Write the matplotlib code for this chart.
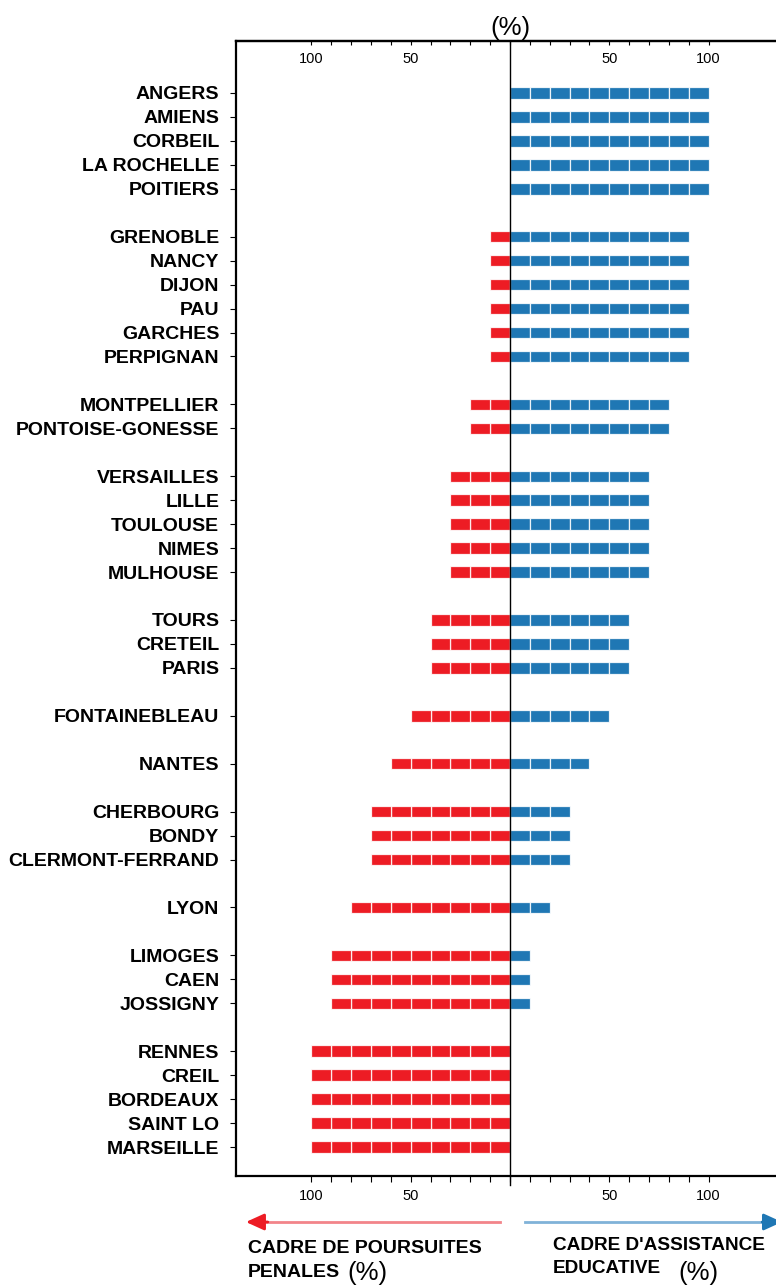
import numpy as np
import matplotlib.pyplot as plt

plt.rcParams["font.family"] = ["Liberation Sans", "DejaVu Sans"]

cities = ["ANGERS", "AMIENS", "CORBEIL", "LA ROCHELLE", "POITIERS",
          "GRENOBLE", "NANCY", "DIJON", "PAU", "GARCHES", "PERPIGNAN",
          "MONTPELLIER", "PONTOISE-GONESSE",
          "VERSAILLES", "LILLE", "TOULOUSE", "NIMES", "MULHOUSE",
          "TOURS", "CRETEIL", "PARIS",
          "FONTAINEBLEAU",
          "NANTES",
          "CHERBOURG", "BONDY", "CLERMONT-FERRAND",
          "LYON",
          "LIMOGES", "CAEN", "JOSSIGNY",
          "RENNES", "CREIL", "BORDEAUX", "SAINT LO", "MARSEILLE"]
group_sizes = [5, 6, 2, 5, 3, 1, 1, 3, 1, 3, 5]
# cadre de poursuites penales (%)
penales = [0, 0, 0, 0, 0,
           10, 10, 10, 10, 10, 10,
           20, 20,
           30, 30, 30, 30, 30,
           40, 40, 40,
           50,
           60,
           70, 70, 70,
           80,
           90, 90, 90,
           100, 100, 100, 100, 100]
# cadre d'assistance educative (%)
educative = [100, 100, 100, 100, 100,
             90, 90, 90, 90, 90, 90,
             80, 80,
             70, 70, 70, 70, 70,
             60, 60, 60,
             50,
             40,
             30, 30, 30,
             20,
             10, 10, 10,
             0, 0, 0, 0, 0]
x_ticks = [-100, -50, 50, 100]
x_ticklabels = ["100", "50", "50", "100"]

RED = "#ed1c24"
BLUE = "#1f77b4"

# one blank row between groups
ypos = []
pos = 0
for g in group_sizes:
    for i in range(g):
        ypos.append(pos)
        pos += 1
    pos += 1

fig = plt.figure(figsize=(7.76, 12.86), dpi=100)
ax = fig.add_axes([236 / 776, 110 / 1286, 548 / 776, 1135 / 1286])

seg = dict(height=0.48, edgecolor=(1, 1, 1, 0.85), linewidth=0.9)
for y, r, b in zip(ypos, penales, educative):
    for start in range(0, r, 10):
        ax.barh(y, 10, left=-start - 10, color=RED, **seg)
    for start in range(0, b, 10):
        ax.barh(y, 10, left=start, color=BLUE, **seg)

ax.plot([0, 0], [-0.008, 1], transform=ax.get_xaxis_transform(),
        color="black", lw=1, clip_on=False, zorder=5)

ax.set_xlim(-138, 138)
ax.set_ylim(45.21, -2.17)

ax.set_yticks(ypos)
ax.set_yticklabels(cities, fontsize=14, fontweight="bold")
ax.tick_params(axis="y", length=4, width=0.8, pad=8)

minor = np.arange(-100, 101, 10)
ax.set_xticks(x_ticks)
ax.set_xticklabels(x_ticklabels, fontsize=10.5)
ax.set_xticks(minor, minor=True)
ax.tick_params(axis="x", which="both", direction="out", length=4, width=0.8, pad=5)

top = ax.secondary_xaxis("top")
top.set_xticks(x_ticks)
top.set_xticklabels(x_ticklabels, fontsize=10.5)
top.set_xticks(minor, minor=True)
top.tick_params(axis="x", which="both", direction="in", length=3, width=0.8, pad=-18)
top.spines["top"].set_linewidth(1.6)

for side in ["left", "bottom", "top"]:
    ax.spines[side].set_linewidth(1.6)
ax.spines["right"].set_visible(False)

ax.set_title("(%)", fontsize=18.5, pad=4)

# arrows below the axes
ytr = ax.get_xaxis_transform()
yarr = -(1222 - 1176) / 1135
ax.plot([-5, -125], [yarr, yarr], transform=ytr, color="#f2848a", lw=2, clip_on=False)
ax.annotate("", xy=(-133, yarr), xytext=(-122, yarr), xycoords=ytr,
            arrowprops=dict(arrowstyle="-|>,head_length=1.1,head_width=0.5",
                            color=RED, lw=2, shrinkA=0, shrinkB=0),
            annotation_clip=False)
ax.plot([7.5, 128], [yarr, yarr], transform=ytr, color="#80b2d8", lw=2, clip_on=False)
ax.annotate("", xy=(137, yarr), xytext=(127, yarr), xycoords=ytr,
            arrowprops=dict(arrowstyle="-|>,head_length=1.1,head_width=0.5",
                            color=BLUE, lw=2, shrinkA=0, shrinkB=0),
            annotation_clip=False)

def fy(px):
    return 1 - px / 1286

fig.text(248 / 776, fy(1240), "CADRE DE POURSUITES", fontsize=14,
         fontweight="bold", va="top", ha="left")
fig.text(248 / 776, fy(1264), "PENALES", fontsize=14,
         fontweight="bold", va="top", ha="left")
fig.text(347 / 776, fy(1285), "(%)", fontsize=18.5, va="bottom", ha="left")
fig.text(553 / 776, fy(1237), "CADRE D'ASSISTANCE", fontsize=13.7,
         fontweight="bold", va="top", ha="left")
fig.text(553 / 776, fy(1260), "EDUCATIVE", fontsize=13.7,
         fontweight="bold", va="top", ha="left")
fig.text(678 / 776, fy(1285), "(%)", fontsize=18.5, va="bottom", ha="left")

fig.savefig("out.png", dpi=100)
